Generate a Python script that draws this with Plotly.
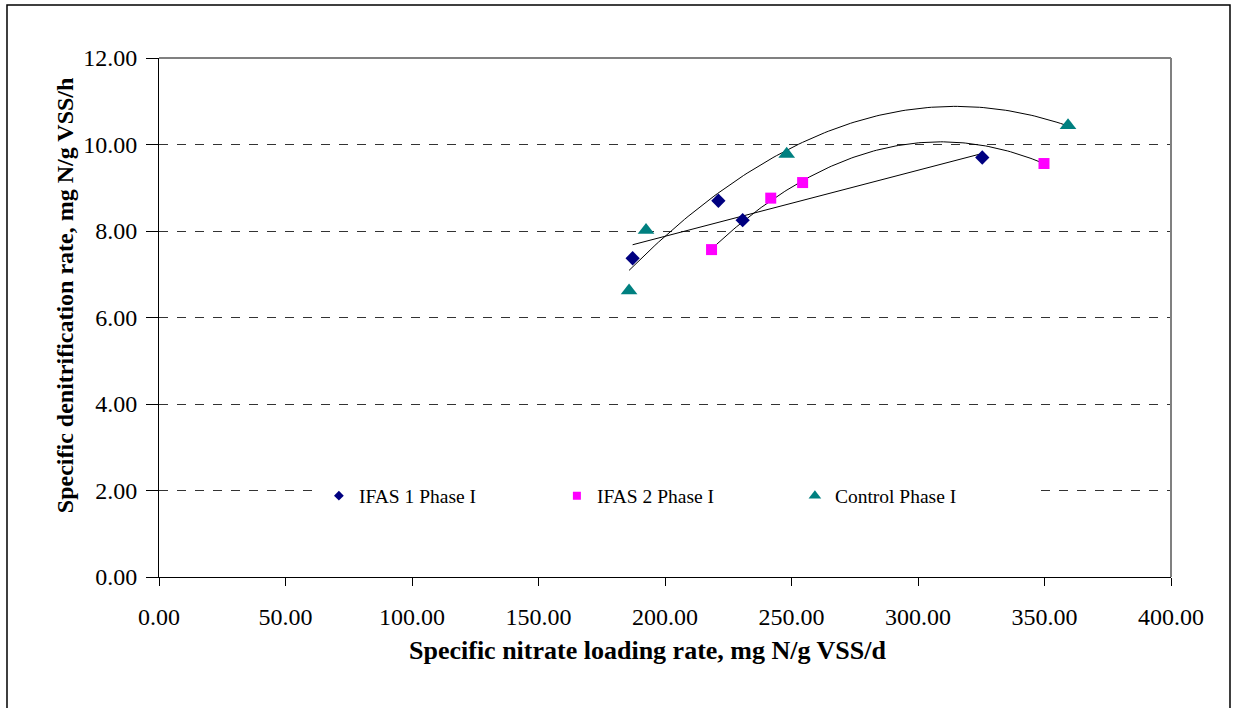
import numpy as np
import plotly.graph_objects as go

# Specific nitrate loading rate (mg N/g VSS/d) and specific denitrification rate (mg N/g VSS/h)
ifas1_x = [187.2, 221.1, 230.7, 325.4]
ifas1_y = [7.37, 8.70, 8.25, 9.70]

ifas2_x = [218.4, 241.8, 254.4, 349.8]
ifas2_y = [7.57, 8.76, 9.12, 9.56]

control_x = [185.8, 192.5, 248.1, 359.3]
control_y = [6.62, 8.02, 9.78, 10.44]

series_names = ["IFAS 1 Phase I", "IFAS 2 Phase I", "Control Phase I"]
x_ticks = [0, 50, 100, 150, 200, 250, 300, 350, 400]
y_ticks = [0, 2, 4, 6, 8, 10, 12]

NAVY = "#000080"
MAGENTA = "#FF00FF"
TEAL = "#008080"
SERIF = "Liberation Serif, Times New Roman, serif"


def trend(xs, ys, degree):
    """Least-squares trendline sampled across the span of the data."""
    coef = np.polyfit(xs, ys, degree)
    grid = np.linspace(min(xs), max(xs), 120)
    return grid, np.polyval(coef, grid)


fig = go.Figure()

# Trendlines: linear for IFAS 1, second-order polynomial for IFAS 2 and Control
for xs, ys, deg in [(ifas1_x, ifas1_y, 1), (ifas2_x, ifas2_y, 2), (control_x, control_y, 2)]:
    tx, ty = trend(xs, ys, deg)
    fig.add_trace(go.Scatter(x=tx, y=ty, mode="lines", line=dict(color="black", width=1),
                             showlegend=False, hoverinfo="skip"))

# Measured points
markers = [
    (ifas1_x, ifas1_y, "diamond", NAVY, 11),
    (ifas2_x, ifas2_y, "square", MAGENTA, 11),
    (control_x, control_y, "triangle-up", TEAL, 14.5),
]
for (xs, ys, sym, col, size), name in zip(markers, series_names):
    fig.add_trace(go.Scatter(x=xs, y=ys, mode="markers", name=name,
                             marker=dict(symbol=sym, color=col, size=size, line=dict(width=0)),
                             showlegend=False))

# Legend entries with smaller symbols
legend_sizes = [7.5, 8, 11]
for (xs, ys, sym, col, size), name, lsz in zip(markers, series_names, legend_sizes):
    fig.add_trace(go.Scatter(x=[None], y=[None], mode="markers", name=name,
                             marker=dict(symbol=sym, color=col, size=lsz, line=dict(width=0))))

fig.update_layout(
    width=1235, height=708,
    margin=dict(l=159, r=64, t=58, b=131),
    paper_bgcolor="white", plot_bgcolor="white",
    font=dict(family=SERIF, size=24, color="black"),
    showlegend=True,
    legend=dict(orientation="h", x=0.158, y=0.156, xanchor="left", yanchor="middle",
                bgcolor="white", borderwidth=0, font=dict(size=19.5, family=SERIF),
                entrywidth=193, entrywidthmode="pixels", itemsizing="trace"),
    xaxis=dict(range=[0, 400], tickvals=x_ticks, tickformat=".2f",
               showline=True, linecolor="black", linewidth=1,
               ticks="outside", ticklen=8, tickcolor="black", ticklabelstandoff=10,
               showgrid=False, zeroline=False),
    yaxis=dict(range=[0, 12], tickvals=y_ticks, tickformat=".2f",
               showline=True, linecolor="black", linewidth=1,
               ticks="outside", ticklen=12, tickcolor="black", ticklabelstandoff=4,
               showgrid=True, gridcolor="#333333", griddash="dash", gridwidth=1,
               zeroline=False),
    annotations=[
        dict(text="<b>Specific nitrate loading rate, mg N/g VSS/d</b>", xref="paper", yref="paper",
             x=0.483, y=-0.1407, xanchor="center", yanchor="middle", showarrow=False,
             font=dict(size=26, family=SERIF)),
        dict(text="<b>Specific denitrification rate, mg N/g VSS/h</b>", xref="paper", yref="paper",
             x=-0.0929, y=0.543, xanchor="center", yanchor="middle", showarrow=False,
             textangle=-90, font=dict(size=24, family=SERIF)),
    ],
    shapes=[
        # plot-area border (top and right edges)
        dict(type="line", xref="paper", yref="paper", x0=0, x1=1, y0=1, y1=1,
             line=dict(color="#808080", width=2), layer="above"),
        dict(type="line", xref="paper", yref="paper", x0=1, x1=1, y0=0, y1=1,
             line=dict(color="#808080", width=2), layer="above"),
        # chart-area frame
        dict(type="rect", xref="paper", yref="paper", x0=-0.1502, x1=1.0583, y0=-0.27, y1=1.1021,
             line=dict(color="black", width=1.5), fillcolor="rgba(0,0,0,0)", layer="above"),
    ],
)

fig.write_html("out.html")
